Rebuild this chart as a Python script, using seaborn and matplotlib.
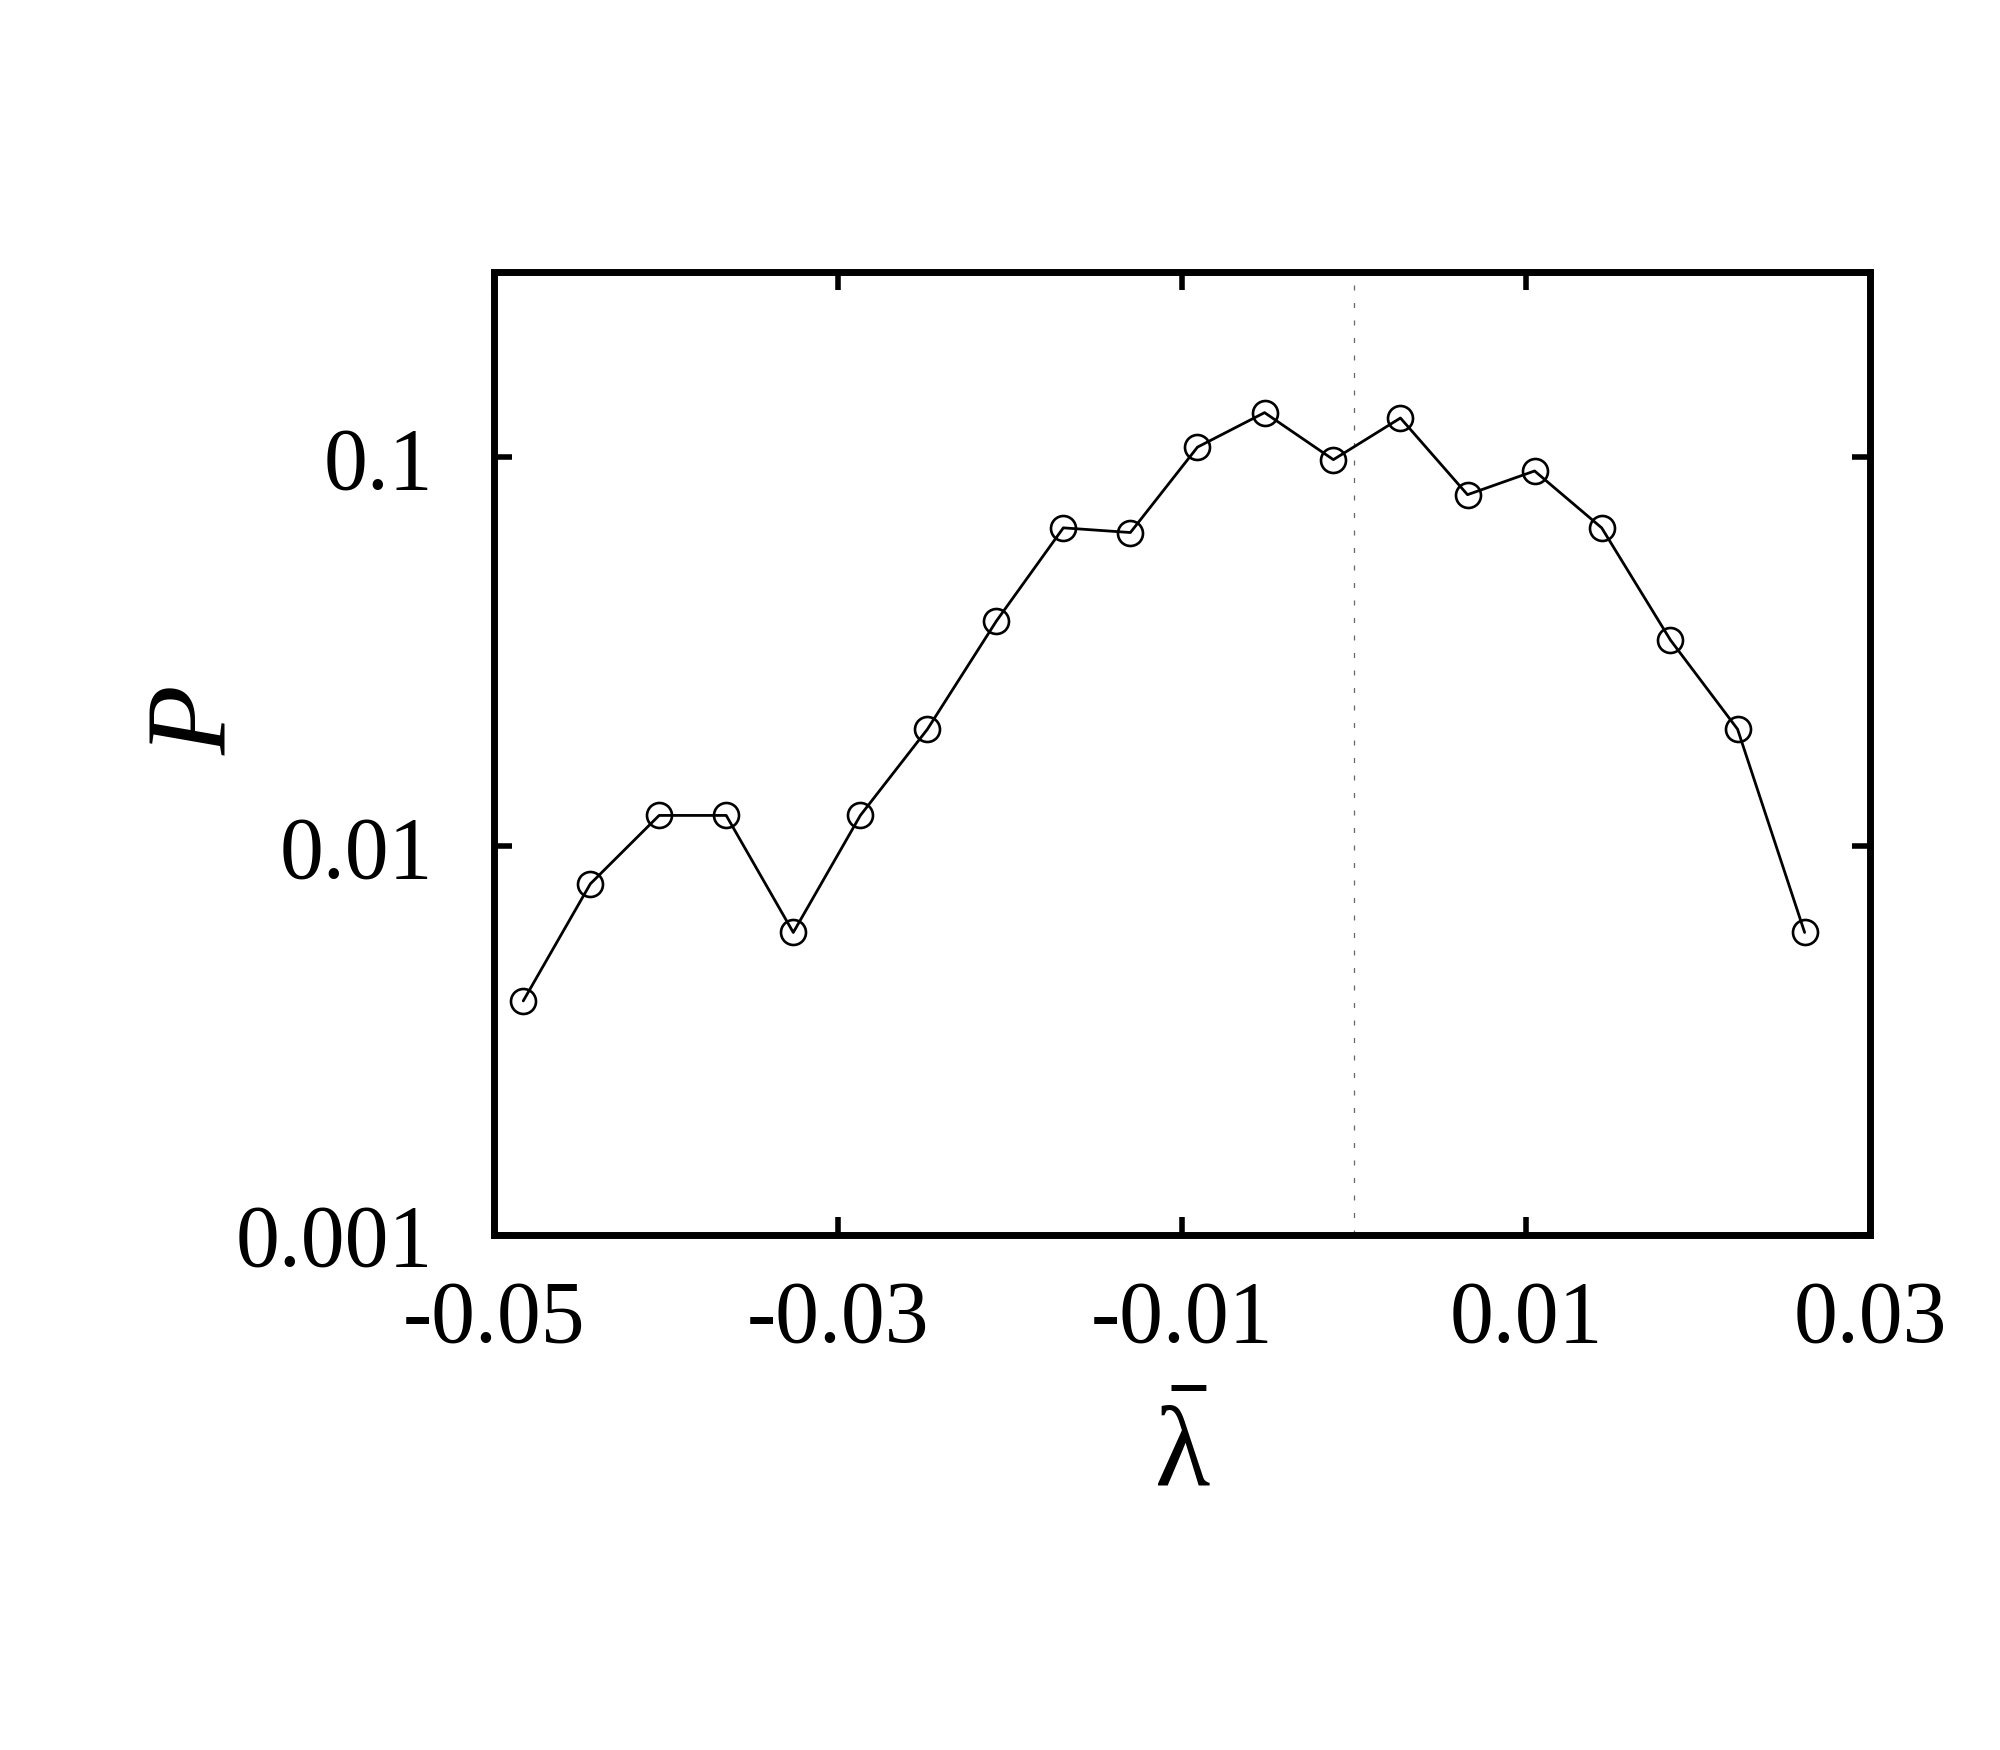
import matplotlib
import matplotlib.pyplot as plt
import pandas as pd
import seaborn as sns

matplotlib.use("Agg")

# mean lambda bins and probability
lam_bar = [-0.0483, -0.0444, -0.0404, -0.0365, -0.0326, -0.0287, -0.0248,
           -0.0208, -0.0169, -0.0130, -0.0091, -0.0052, -0.0012, 0.0027,
           0.0066, 0.0105, 0.0144, 0.0184, 0.0223, 0.0262]
prob = [0.0040, 0.0080, 0.0120, 0.0120, 0.0060, 0.0120, 0.0200,
        0.0379, 0.0659, 0.0641, 0.1063, 0.1304, 0.0987, 0.1263,
        0.0802, 0.0923, 0.0659, 0.0339, 0.0200, 0.0060]

x_ticks = [-0.05, -0.03, -0.01, 0.01, 0.03]
x_tick_labels = ["-0.05", "-0.03", "-0.01", "0.01", "0.03"]
y_ticks = [0.001, 0.01, 0.1]
y_tick_labels = ["0.001", "0.01", "0.1"]

sns.set_theme(style="ticks")
plt.rcParams["font.family"] = ["Liberation Serif", "DejaVu Serif"]
plt.rcParams["mathtext.fontset"] = "custom"
plt.rcParams["mathtext.rm"] = "Liberation Serif"
plt.rcParams["mathtext.it"] = "Liberation Serif"
plt.rcParams["text.color"] = "black"
plt.rcParams["axes.labelcolor"] = "black"

df = pd.DataFrame({"lam": lam_bar, "P": prob})

fig = plt.figure(figsize=(20, 17.5), dpi=100)
ax = fig.add_axes([0.247, 0.2943, 0.688, 0.5503])

ax.axvline(0.0, color="#666666", lw=0.9, ls=(0, (4, 10)), zorder=1)
sns.lineplot(data=df, x="lam", y="P", ax=ax, color="black", lw=2.0,
             marker="o", markersize=18, markerfacecolor="none",
             markeredgecolor="black", markeredgewidth=1.9, zorder=3)

ax.set_yscale("log")
ax.set_xlim(-0.05, 0.03)
ax.set_ylim(0.001, 0.3)

ax.set_xticks(x_ticks)
ax.set_xticklabels(x_tick_labels)
ax.set_yticks(y_ticks)
ax.set_yticklabels(y_tick_labels)
ax.yaxis.set_minor_locator(matplotlib.ticker.NullLocator())

ax.tick_params(axis="both", which="major", direction="in", length=13,
               width=4, labelsize=63, color="black", labelcolor="black",
               top=True, right=True)
ax.tick_params(axis="x", pad=32)
ax.tick_params(axis="y", pad=44)

for sp in ax.spines.values():
    sp.set_visible(True)
    sp.set_linewidth(5)
    sp.set_color("black")

ax.set_xlabel(r"$\bar{\lambda}$", fontsize=82, labelpad=32)
ax.set_ylabel("P", fontsize=82, fontstyle="italic")
ax.yaxis.set_label_coords(-0.178, 0.535)

fig.savefig("out.png", dpi=100, facecolor="white")
